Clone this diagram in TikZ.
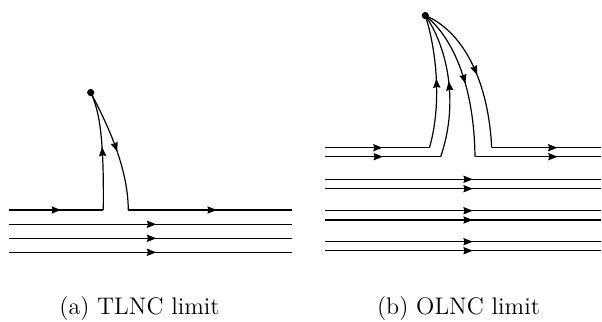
\documentclass[tikz,border=0pt]{standalone}
\usetikzlibrary{arrows.meta,decorations.markings}
\begin{document}
\begin{tikzpicture}[x=0.5pt,y=-0.5pt,
  ln/.style={line width=0.6pt},
  flow/.style={ln, postaction={decorate}, decoration={markings,
     mark=at position #1 with {\arrow{Stealth[length=4.6pt,width=3.6pt,inset=0.5pt]}}}},
  flow/.default=0.5,
  dotnode/.style={circle, fill, inner sep=0pt, minimum size=3.6pt},
  captext/.style={font=\fontsize{12}{14}\selectfont, anchor=base, inner sep=0pt}]
\useasboundingbox (0,0) rectangle (602,322);

% ---------- (a) TLNC limit ----------
\node[dotnode] (aD) at (90.7,92.5) {};
\coordinate (aL1) at (9,210);   \coordinate (aG1) at (103.3,210);
\coordinate (aG2) at (128.3,210); \coordinate (aR1) at (292,210);
\coordinate (aL2) at (9,224.3); \coordinate (aR2) at (292,224.3);
\coordinate (aL3) at (9,238.3); \coordinate (aR3) at (292,238.3);
\coordinate (aL4) at (9,252.3); \coordinate (aR4) at (292,252.3);

\draw[flow=0.55] (aL1) -- (aG1);
\draw[flow=0.54] (aG2) -- (aR1);
\draw[flow=0.52] (aL2) -- (aR2);
\draw[flow=0.52] (aL3) -- (aR3);
\draw[flow=0.52] (aL4) -- (aR4);
\draw[flow=0.53] (aG1) .. controls (104,140) and (100,112) .. (aD.center);
\draw[flow=0.52] (aD.center) .. controls (105,120) and (128,165) .. (aG2);

\node[captext] (capa) at (139.5,314) {(a) TLNC limit};

% ---------- (b) OLNC limit ----------
\node[dotnode] (bD) at (425.3,15.5) {};
\coordinate (bL1) at (325,147.7);   \coordinate (bG1) at (429.5,147.7);
\coordinate (bG4) at (491.7,147.7); \coordinate (bR1) at (601,147.7);
\coordinate (bL2) at (325,156.7);   \coordinate (bG2) at (440.7,156.7);
\coordinate (bG3) at (475,156.7);   \coordinate (bR2) at (601,156.7);

\draw[flow=0.55] (bL1) -- (bG1);
\draw[flow=0.5]  (bL2) -- (bG2);
\draw[flow=0.6] (bG4) -- (bR1);
\draw[flow=0.655] (bG3) -- (bR2);

\draw[flow=0.52] (bG1) .. controls (443,100) and (435,45) .. (bD.center);
\draw[flow=0.52] (bG2) .. controls (460,100) and (446,45) .. (bD.center);
\draw[flow=0.52] (bD.center) .. controls (450,35) and (474,80) .. (bG3);
\draw[flow=0.52] (bD.center) .. controls (460,30) and (488,75) .. (bG4);

\foreach \i/\yy in {3/179.3, 4/188.7, 5/210.7, 6/220, 7/241.7, 8/250.7}{
  \coordinate (bL\i) at (325,\yy);
  \coordinate (bR\i) at (601,\yy);
  \draw[flow=0.535] (bL\i) -- (bR\i);
}

\node[captext] (capb) at (458.5,314) {(b) OLNC limit};
\end{tikzpicture}
\end{document}
